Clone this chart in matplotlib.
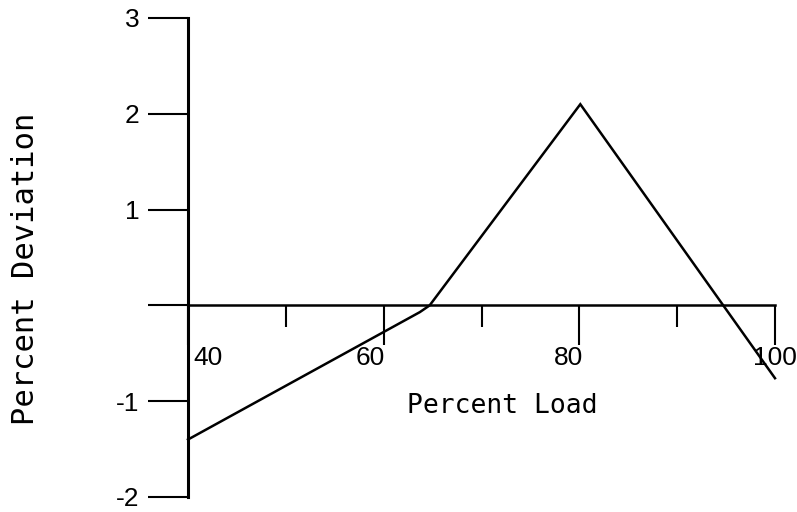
import matplotlib
matplotlib.use("Agg")
import matplotlib.pyplot as plt
from matplotlib import font_manager
from matplotlib.ticker import FixedLocator

# Deviation against load
load = [40, 63.7, 64.7, 80.1, 100]
deviation = [-1.40, -0.07, 0.0, 2.1, -0.76]

y_ticks = [-2, -1, 0, 1, 2, 3]
y_tick_labels = ['-2', '-1', '', '1', '2', '3']
x_major = [40, 60, 80, 100]
x_minor = [50, 70, 90]
x_tick_labels = ['40', '60', '80', '100']

# narrow sans for the numbers if it is around, typewriter face for the titles
names = {f.name for f in font_manager.fontManager.ttflist}
num_font = 'Liberation Sans Narrow' if 'Liberation Sans Narrow' in names else 'Liberation Sans'
title_font = 'DejaVu Sans Mono'

W, H = 797, 512
fig = plt.figure(figsize=(W / 100, H / 100), dpi=100)
ax = fig.add_axes([188 / W, 15 / H, (775 - 188) / W, (497 - 18) / H])

ax.plot(load, deviation, color='black', lw=1.8, solid_joinstyle='miter', clip_on=False)

ax.set_xlim(40, 100)
ax.set_ylim(-2, 3)

for side in ['top', 'right']:
    ax.spines[side].set_visible(False)
ax.spines['left'].set_linewidth(2.2)
ax.spines['bottom'].set_position(('data', 0))
ax.spines['bottom'].set_linewidth(1.8)

ax.set_yticks(y_ticks)
ax.set_yticklabels(y_tick_labels, fontfamily=num_font, fontsize=19)
ax.tick_params(axis='y', direction='out', length=29, width=1.5, pad=6)

ax.xaxis.set_major_locator(FixedLocator(x_major))
ax.xaxis.set_minor_locator(FixedLocator(x_minor))
ax.set_xticklabels([])
ax.tick_params(axis='x', which='major', direction='out', length=29, width=1.5)
ax.tick_params(axis='x', which='minor', direction='out', length=16, width=1.5)

# tick numbers sit beside their ticks rather than centred under them
align = ['left', 'right', 'right', 'center']
nudge = [0.5, 0.1, 0.4, 0.0]
for x, lab, ha, dx in zip(x_major, x_tick_labels, align, nudge):
    ax.text(x + dx, -0.55, lab, ha=ha, va='center', fontfamily=num_font,
            fontsize=19, clip_on=False)

fig.text(502 / W, 1 - 406 / H, 'Percent Load', ha='center', va='center',
         fontfamily=title_font, fontsize=19)
fig.text(26 / W, 1 - 269 / H, 'Percent Deviation', ha='center', va='center',
         rotation=90, fontfamily=title_font, fontsize=22)

fig.savefig('out.png', dpi=100)
